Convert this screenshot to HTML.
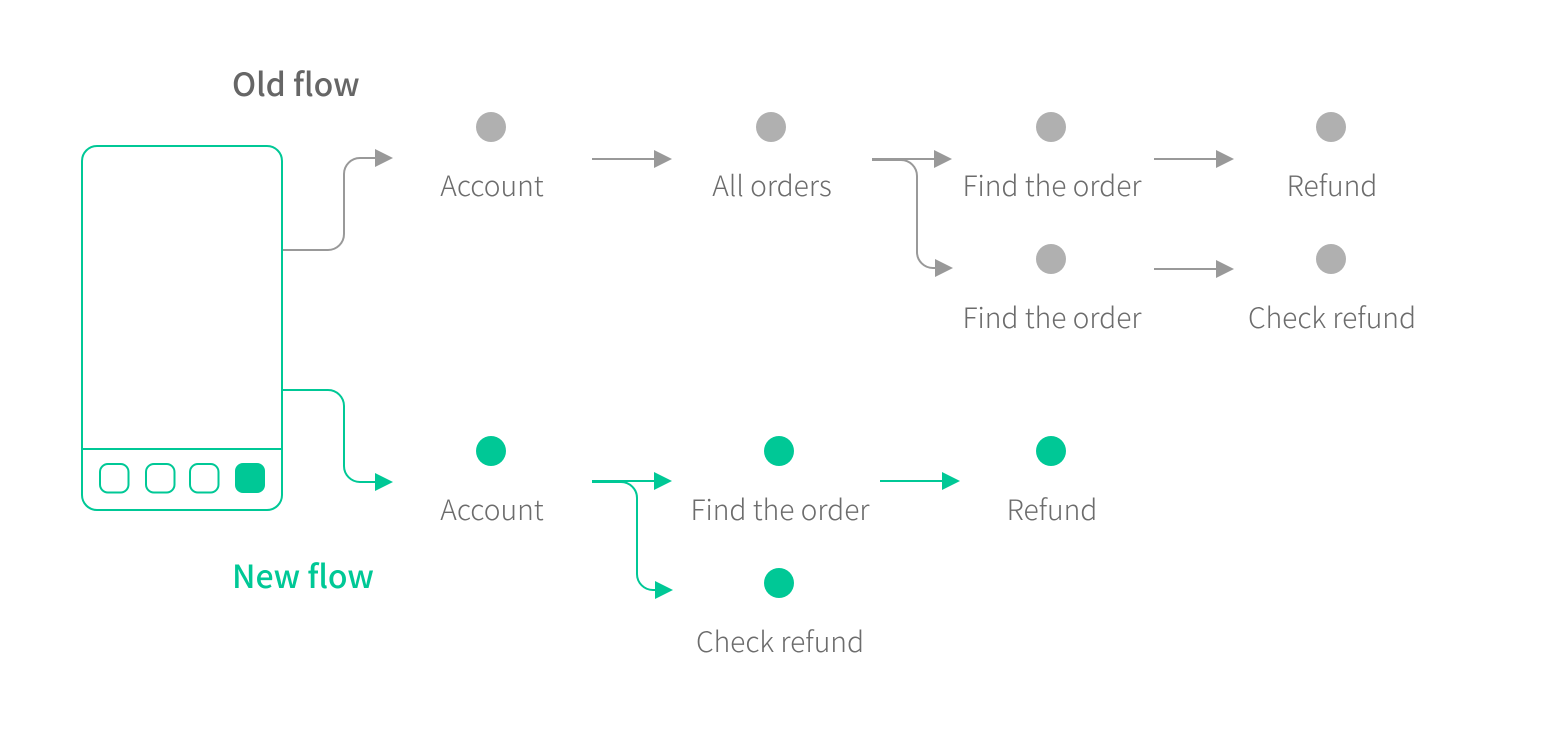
<!DOCTYPE html>
<html><head><meta charset="utf-8"><style>
html,body{margin:0;padding:0;background:#fff}
svg{display:block}
text{font-family:"Noto Sans CJK SC","Noto Sans CJK JP","Liberation Sans",sans-serif}
.l{font-size:28.2px;font-weight:200;fill:#6c6c6c;text-anchor:middle}
.t{font-size:32px;font-weight:500}
.g{fill:none;stroke:#999;stroke-width:2}
.n{fill:none;stroke:#00c896;stroke-width:2}
</style></head><body>
<svg width="1560" height="730" viewBox="0 0 1560 730" xmlns="http://www.w3.org/2000/svg">
<rect width="1560" height="730" fill="#fff"/>
<text class="t" x="232" y="96" fill="#666">Old flow</text>
<text class="t" x="232" y="588" fill="#00c896">New flow</text>
<rect class="n" x="82" y="146" width="200" height="364" rx="15"/>
<path class="n" d="M82 449H282"/>
<rect class="n" x="100" y="464" width="28.500" height="28.500" rx="8"/>
<rect class="n" x="146" y="464" width="28.500" height="28.500" rx="8"/>
<rect class="n" x="190" y="464" width="28.500" height="28.500" rx="8"/>
<rect x="235" y="463" width="30" height="30" rx="8" fill="#00c896"/>
<path class="g" d="M283 250H328A16 16 0 0 0 344 234V174A16 16 0 0 1 360 158H376"/>
<path d="M375 149L393 158L375 167Z" fill="#999"/>
<path class="g" d="M592 159H655"/><path d="M654 150L672 159L654 168Z" fill="#999"/>
<path class="g" d="M872 159H935"/><path d="M934 150L952 159L934 168Z" fill="#999"/>
<path class="g" d="M872 160H901A16 16 0 0 1 917 176V252A16 16 0 0 0 933 268H936"/><path d="M935 259L953 268L935 277Z" fill="#999"/>
<path class="g" d="M1154 159H1217"/><path d="M1216 150L1234 159L1216 168Z" fill="#999"/>
<path class="g" d="M1154 269H1217"/><path d="M1216 260L1234 269L1216 278Z" fill="#999"/>
<path class="n" d="M283 390H328A16 16 0 0 1 344 406V466A16 16 0 0 0 360 482H376"/>
<path d="M375 473L393 482L375 491Z" fill="#00c896"/>
<path class="n" d="M592 481H655"/><path d="M654 472L672 481L654 490Z" fill="#00c896"/>
<path class="n" d="M592 482H621A16 16 0 0 1 637 498V574A16 16 0 0 0 653 590H656"/><path d="M655 581L673 590L655 599Z" fill="#00c896"/>
<path class="n" d="M880 481H943"/><path d="M942 472L960 481L942 490Z" fill="#00c896"/>
<g fill="#b0b0b0">
<circle cx="491" cy="127" r="15"/><circle cx="771" cy="127" r="15"/><circle cx="1051" cy="127" r="15"/><circle cx="1331" cy="127" r="15"/><circle cx="1051" cy="259" r="15"/><circle cx="1331" cy="259" r="15"/>
</g>
<g fill="#00c896">
<circle cx="491" cy="451" r="15"/><circle cx="779" cy="451" r="15"/><circle cx="1051" cy="451" r="15"/><circle cx="779" cy="583" r="15"/>
</g>
<text class="l" x="492" y="196">Account</text>
<text class="l" x="772" y="196">All orders</text>
<text class="l" x="1052" y="196">Find the order</text>
<text class="l" x="1332" y="196">Refund</text>
<text class="l" x="1052" y="328">Find the order</text>
<text class="l" x="1332" y="328">Check refund</text>
<text class="l" x="492" y="520">Account</text>
<text class="l" x="780" y="520">Find the order</text>
<text class="l" x="1052" y="520">Refund</text>
<text class="l" x="780" y="652">Check refund</text>
</svg>
</body></html>
